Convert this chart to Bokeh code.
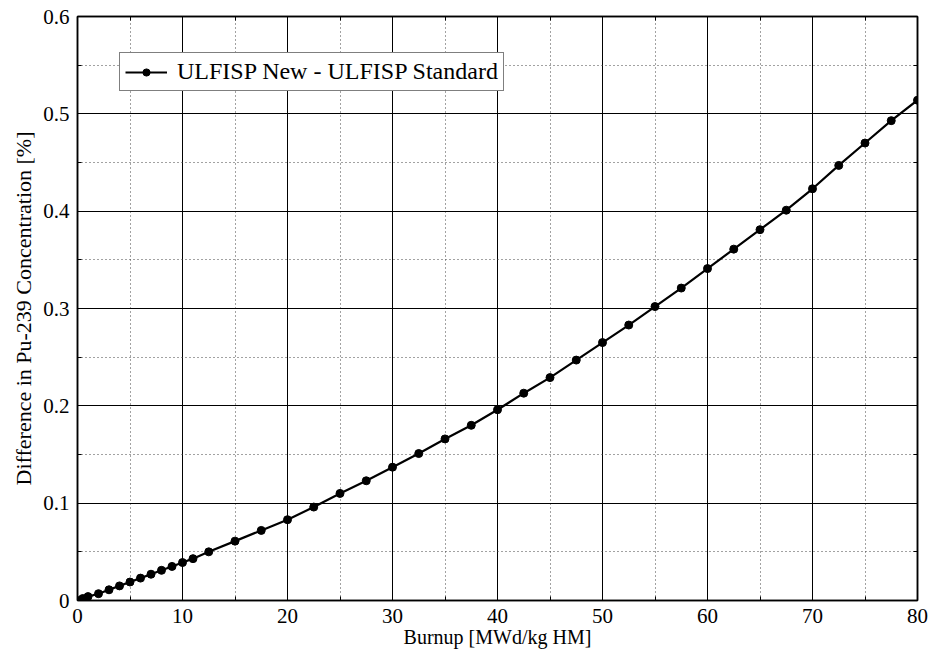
from bokeh.plotting import figure
from bokeh.models import (FixedTicker, LinearAxis, Legend, LegendItem, Range1d)
from bokeh.embed import file_html
from bokeh.resources import INLINE

burnup = [0, 0.5, 1, 2, 3, 4, 5, 6, 7, 8, 9, 10, 11, 12.5, 15, 17.5, 20,
          22.5, 25, 27.5, 30, 32.5, 35, 37.5, 40, 42.5, 45, 47.5, 50, 52.5,
          55, 57.5, 60, 62.5, 65, 67.5, 70, 72.5, 75, 77.5, 80]
diff_pu239 = [0.0, 0.002, 0.004, 0.007, 0.011, 0.015, 0.019, 0.023, 0.027,
              0.031, 0.035, 0.039, 0.043, 0.050, 0.061, 0.072, 0.083,
              0.096, 0.110, 0.123, 0.137, 0.151, 0.166, 0.180, 0.196,
              0.213, 0.229, 0.247, 0.265, 0.283, 0.302, 0.321, 0.341,
              0.361, 0.381, 0.401, 0.423, 0.447, 0.470, 0.493, 0.514]

x_ticks = [0, 10, 20, 30, 40, 50, 60, 70, 80]
x_minor = [5, 15, 25, 35, 45, 55, 65, 75]
y_ticks = [0, 0.1, 0.2, 0.3, 0.4, 0.5, 0.6]
y_tick_labels = ["0", "0.1", "0.2", "0.3", "0.4", "0.5", "0.6"]
y_minor = [0.05, 0.15, 0.25, 0.35, 0.45, 0.55]
series_label = "ULFISP New - ULFISP Standard"
x_title = "Burnup [MWd/kg HM]"
y_title = "Difference in Pu-239 Concentration [%]"

FONT = "Liberation Serif"

p = figure(width=932, height=655, output_backend="svg", toolbar_location=None,
           x_range=Range1d(0, 80), y_range=Range1d(0, 0.6),
           min_border_left=77, min_border_right=15, min_border_top=16,
           min_border_bottom=55)
p.background_fill_color = "white"
p.border_fill_color = "white"
p.outline_line_color = "black"
p.outline_line_width = 1.5

xt = FixedTicker(ticks=x_ticks, minor_ticks=x_minor)
yt = FixedTicker(ticks=y_ticks, minor_ticks=y_minor)

def style_axis(ax, labels=True, label_size="21px"):
    ax.axis_line_color = "black"
    ax.axis_line_width = 1.5
    ax.major_tick_in = 8
    ax.major_tick_out = 0
    ax.minor_tick_in = 4
    ax.minor_tick_out = 0
    ax.major_tick_line_color = "black"
    ax.minor_tick_line_color = "black"
    ax.major_label_text_font = FONT
    ax.major_label_text_font_size = "21px"
    ax.major_label_text_color = "black"
    ax.axis_label_text_font = FONT
    ax.axis_label_text_font_size = label_size
    ax.axis_label_text_font_style = "normal"
    ax.axis_label_text_color = "black"
    if not labels:
        ax.major_label_text_font_size = "0px"
        ax.major_label_text_alpha = 0

xa = p.xaxis[0]
xa.ticker = xt
xa.axis_label = x_title
xa.major_label_standoff = 8
xa.axis_label_standoff = 0
style_axis(xa, label_size="20px")

ya = p.yaxis[0]
ya.ticker = yt
ya.axis_label = y_title
ya.major_label_overrides = {t: l for t, l in zip(y_ticks, y_tick_labels)}
ya.major_label_standoff = 8
ya.axis_label_standoff = 4
style_axis(ya, label_size="22px")

top_ax = LinearAxis(ticker=xt)
style_axis(top_ax, labels=False)
top_ax.major_label_standoff = 0
p.add_layout(top_ax, "above")
right_ax = LinearAxis(ticker=yt)
style_axis(right_ax, labels=False)
right_ax.major_label_standoff = 0
p.add_layout(right_ax, "right")

p.xgrid.ticker = xt
p.ygrid.ticker = yt
for g in (p.xgrid[0], p.ygrid[0]):
    g.grid_line_color = "black"
    g.grid_line_width = 1
    g.minor_grid_line_color = "#444444"
    g.minor_grid_line_dash = "1 3"
    g.minor_grid_line_width = 1

ln = p.line(burnup, diff_pu239, line_color="black", line_width=2.2)
sc = p.scatter(burnup, diff_pu239, size=8, marker="circle",
               fill_color="black", line_color="black")

legend = Legend(items=[LegendItem(label=series_label, renderers=[ln, sc])],
                location=(42, 509))
legend.label_text_font = FONT
legend.label_text_font_size = "24px"
legend.label_text_color = "black"
legend.border_line_color = "black"
legend.border_line_width = 1
legend.background_fill_alpha = 1
legend.glyph_width = 42
legend.glyph_height = 18
legend.label_height = 18
legend.padding = 5
legend.margin = 0
legend.label_standoff = 10
legend.spacing = 0
p.add_layout(legend, "center")

open("out.html", "w").write(file_html(p, INLINE))
